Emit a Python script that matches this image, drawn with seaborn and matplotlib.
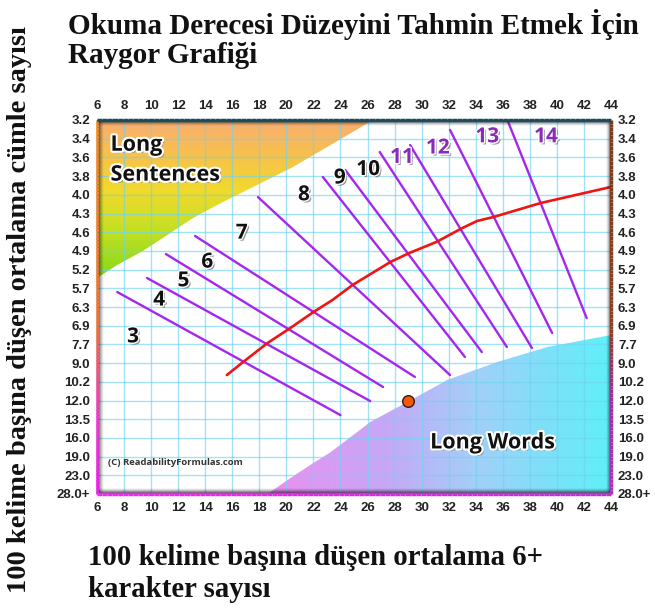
import numpy as np
import pandas as pd
import matplotlib
matplotlib.use("Agg")
import matplotlib.pyplot as plt
import seaborn as sns
from matplotlib.patches import Polygon
from matplotlib.collections import LineCollection
import matplotlib.patheffects as pe
from matplotlib.colors import LinearSegmentedColormap

sns.set_theme(style="white")
plt.rcParams['font.family'] = ['DejaVu Sans']

# ---------------- data ----------------
title = "Okuma Derecesi Düzeyini Tahmin Etmek İçin\nRaygor Grafiği"
x_label = "100 kelime başına düşen ortalama 6+\nkarakter sayısı"
y_label = "100 kelime başına düşen ortalama cümle sayısı"

x_ticks = list(range(6, 45, 2))
y_tick_labels = ["3.2", "3.4", "3.6", "3.8", "4.0", "4.3", "4.6", "4.9", "5.2", "5.7",
                 "6.3", "6.9", "7.7", "9.0", "10.2", "12.0", "13.5", "16.0", "19.0",
                 "23.0", "28.0+"]

# grade boundary lines (x = 6+ char words, y = sentence-row index)
line_x_start = [7.5, 9.7, 11.1, 13.25, 17.9, 22.7, 24.35, 26.9, 29.15, 32.1, 36.4]
line_y_start = [9.2, 8.45, 7.17, 6.2, 4.12, 3.05, 2.67, 1.71, 1.34, 0.53, 0.11]
line_x_end = [24.0, 26.2, 27.15, 29.5, 32.1, 33.2, 34.45, 36.3, 38.15, 39.65, 42.2]
line_y_end = [15.78, 15.03, 14.28, 13.74, 13.64, 12.67, 12.41, 12.14, 12.19, 11.39, 10.59]

grade_labels = ["3", "4", "5", "6", "7", "8", "9", "10", "11", "12", "13", "14"]
grade_label_x = [8.66, 10.6, 12.4, 14.15, 16.7, 21.3, 23.95, 26.05, 28.55, 31.2, 34.85, 39.2]
grade_label_y = [11.6, 9.63, 8.6, 7.6, 6.05, 4.0, 3.1, 2.65, 2.0, 1.5, 0.9, 0.9]

# red mean curve
curve_x = [15.6, 16.7, 18.6, 20.3, 22.0, 23.4, 24.9, 27.7, 29.1, 31.1, 33.0, 34.1, 35.3, 38.8, 44.0]
curve_y = [13.64, 13.0, 11.93, 11.12, 10.27, 9.63, 8.82, 7.59, 7.11, 6.52, 5.78, 5.40, 5.19, 4.44, 3.58]

# sample point
point_x = [29.0]
point_y = [15.03]

# region boundaries
sent_bx = [6.0, 7.5, 9.4, 11.3, 13.1, 15.0, 16.8, 18.6, 20.5, 23.0, 25.4, 26.4]
sent_by = [8.45, 7.75, 7.0, 6.1, 5.24, 4.5, 3.85, 3.2, 2.51, 1.45, 0.43, 0.0]
words_bx = [18.6, 20.3, 22.0, 23.2, 25.4, 26.2, 28.9, 31.9, 35.6, 39.3, 44.0]
words_by = [20.0, 19.15, 18.34, 17.8, 16.6, 16.15, 15.1, 13.9, 12.94, 12.14, 11.5]

# ---------------- figure ----------------
W, H = 655, 609
fig = plt.figure(figsize=(W / 100, H / 100), dpi=100)
L, R, T, B = 97, 611, 120, 494
ax = fig.add_axes([L / W, 1 - B / H, (R - L) / W, (B - T) / H])
ax.set_facecolor("white")
XMIN, XMAX, YMIN, YMAX = 6, 44, 0, 20

# Long sentences gradient region
sent_cmap = LinearSegmentedColormap.from_list(
    "sent", [(0.0, "#f9ae72"), (0.18, "#f8bd52"), (0.45, "#f1da2c"),
             (0.7, "#c2e022"), (1.0, "#84d81c")])
grad = np.linspace(0, 1, 256).reshape(-1, 1)
im1 = ax.imshow(grad, cmap=sent_cmap, aspect="auto", extent=(6, 26.5, 8.5, 0),
                zorder=0.5, interpolation="bicubic")
poly1 = Polygon(list(zip(sent_bx, sent_by)) + [(6, 0)], closed=True,
                transform=ax.transData, facecolor="none", edgecolor="none")
ax.add_patch(poly1)
im1.set_clip_path(poly1)

# Long words gradient region
words_cmap = LinearSegmentedColormap.from_list(
    "words", [(0.0, "#ec8ef0"), (0.35, "#c6a8f6"), (0.6, "#a4cef8"), (1.0, "#5ef0f8")])
gradh = np.linspace(0, 1, 256).reshape(1, -1)
im2 = ax.imshow(gradh, cmap=words_cmap, aspect="auto", extent=(18.5, 44, 20, 11.4),
                zorder=0.5, interpolation="bicubic")
poly2 = Polygon(list(zip(words_bx, words_by)) + [(44, 20)], closed=True,
                transform=ax.transData, facecolor="none", edgecolor="none")
ax.add_patch(poly2)
im2.set_clip_path(poly2)

# grid
for xv in x_ticks:
    ax.axvline(xv, color="#6fd3f2", lw=1.0, alpha=0.65, zorder=1)
for yv in range(len(y_tick_labels)):
    ax.axhline(yv, color="#6fd3f2", lw=1.0, alpha=0.65, zorder=1)

# grade lines via seaborn
rows = []
for i in range(len(line_x_start)):
    rows.append({"line": i, "x": line_x_start[i], "y": line_y_start[i]})
    rows.append({"line": i, "x": line_x_end[i], "y": line_y_end[i]})
df_lines = pd.DataFrame(rows)
sns.lineplot(data=df_lines, x="x", y="y", units="line", estimator=None,
             sort=False, color="#a526ec", lw=1.7, ax=ax, zorder=3)

df_curve = pd.DataFrame({"x": curve_x, "y": curve_y})
sns.lineplot(data=df_curve, x="x", y="y", sort=False, estimator=None,
             color="#f01414", lw=1.9, ax=ax, zorder=4)

sns.scatterplot(x=point_x, y=point_y, s=70, color="#f05a0a", edgecolor="#3a1a0a",
                linewidth=1.0, ax=ax, zorder=6)

# grade labels
shadow = [pe.SimplePatchShadow(offset=(1.5, -1.5), shadow_rgbFace="#444444", alpha=0.55),
          pe.withStroke(linewidth=2, foreground="white")]
for i, lab in enumerate(grade_labels):
    col = "#111111" if int(lab) <= 10 else "#8a2ab8"
    ax.text(grade_label_x[i], grade_label_y[i], lab, ha="center", va="center",
            fontsize=15, fontweight="bold", color=col, family="Open Sans",
            zorder=7, path_effects=shadow)

glow = [pe.SimplePatchShadow(offset=(1.5, -1.5), shadow_rgbFace="#333333", alpha=0.5),
        pe.withStroke(linewidth=3, foreground="white")]
ax.text(7.0, 1.35, "Long", ha="left", va="center", fontsize=15.5, fontweight="bold",
        family="Open Sans", color="#111111", zorder=7, path_effects=glow)
ax.text(7.0, 2.95, "Sentences", ha="left", va="center", fontsize=15.5, fontweight="bold",
        family="Open Sans", color="#111111", zorder=7, path_effects=glow)
ax.text(35.25, 17.27, "Long Words", ha="center", va="center", fontsize=15.5,
        fontweight="bold", family="Open Sans", color="#111111", zorder=7,
        path_effects=glow)
ax.text(6.8, 18.34, "(C) ReadabilityFormulas.com", ha="left", va="center", fontsize=6.8,
        fontweight="bold", family="Open Sans", color="#333333", zorder=7)

# inner shadows of the frame
def band(extent, horizontal, reverse, amax=0.9):
    n = 64
    a = amax * np.linspace(1.0, 0.0, n) ** 1.3
    if reverse:
        a = a[::-1]
    rgba = np.zeros((1, n, 4)) if horizontal else np.zeros((n, 1, 4))
    if horizontal:
        rgba[0, :, 3] = a
    else:
        rgba[:, 0, 3] = a
    rgba[..., :3] = 0.1
    ax.imshow(rgba, aspect="auto", extent=extent, zorder=8, interpolation="bilinear")

px_x = (XMAX - XMIN) / (R - L)
px_y = (YMAX - YMIN) / (B - T)
band((6, 6 + 7 * px_x, 20, 0), True, False)          # left
band((44 - 5 * px_x, 44, 20, 0), True, True, 0.7)    # right
band((6, 44, 0 + 6 * px_y, 0), False, False)          # top
band((6, 44, 20, 20 - 6 * px_y), False, True)         # bottom

# coloured frame edges
def grad_edge(p0, p1, colors, lw):
    n = 100
    xs = np.linspace(p0[0], p1[0], n + 1)
    ys = np.linspace(p0[1], p1[1], n + 1)
    segs = [[(xs[i], ys[i]), (xs[i + 1], ys[i + 1])] for i in range(n)]
    cm = LinearSegmentedColormap.from_list("e", colors)
    lc = LineCollection(segs, colors=cm(np.linspace(0, 1, n)), linewidths=lw,
                        zorder=9, clip_on=False, capstyle="butt")
    ax.add_collection(lc)

grad_edge((6, 0), (6, 20), [(0, "#f0902c"), (0.55, "#f07a40"), (0.8, "#f040d0"), (1, "#f020f0")], 2.0)
grad_edge((44, 0), (44, 20), [(0, "#7a3a1a"), (0.55, "#8a4020"), (0.75, "#9a30a0"), (1, "#b030c0")], 2.5)
grad_edge((6, 20), (44, 20), [(0, "#f028f0"), (1, "#c030d0")], 2.5)
grad_edge((6, 0), (44, 0), [(0, "#1c4c5c"), (1, "#1c4c5c")], 2.5)

for s in ax.spines.values():
    s.set_visible(False)

ax.set_xlim(XMIN, XMAX)
ax.set_ylim(YMAX, YMIN)
ax.set_xticks(x_ticks)
ax.set_xticklabels([str(v) for v in x_ticks])
ax.set_yticks(range(len(y_tick_labels)))
ax.set_yticklabels(y_tick_labels)
ax.tick_params(axis="both", which="both", length=0, labelsize=9.5, colors="#222222")
ax.tick_params(axis="x", top=True, labeltop=True, bottom=True, labelbottom=True, pad=6)
ax.tick_params(axis="y", left=True, labelleft=True, right=True, labelright=True, pad=5)
for lab in ax.get_xticklabels() + ax.get_yticklabels():
    lab.set_fontweight("bold")
    lab.set_family("Liberation Sans")
ax.set_xlabel("")
ax.set_ylabel("")
ax.grid(False)

fig.text(68 / W, 1 - 9 / H, title, ha="left", va="top", fontsize=21, fontweight="bold",
         family="Liberation Serif", color="#111111", linespacing=1.1)
fig.text(88 / W, 1 - 544 / H, x_label, ha="left", va="top", fontsize=20.7, fontweight="bold",
         family="Liberation Serif", color="#111111", linespacing=1.25)
fig.text(20 / W, 1 - 310 / H, y_label, ha="center", va="center", rotation=90, fontsize=20.5,
         fontweight="bold", family="Liberation Serif", color="#111111")

fig.savefig("out.png", dpi=100, facecolor="white")
